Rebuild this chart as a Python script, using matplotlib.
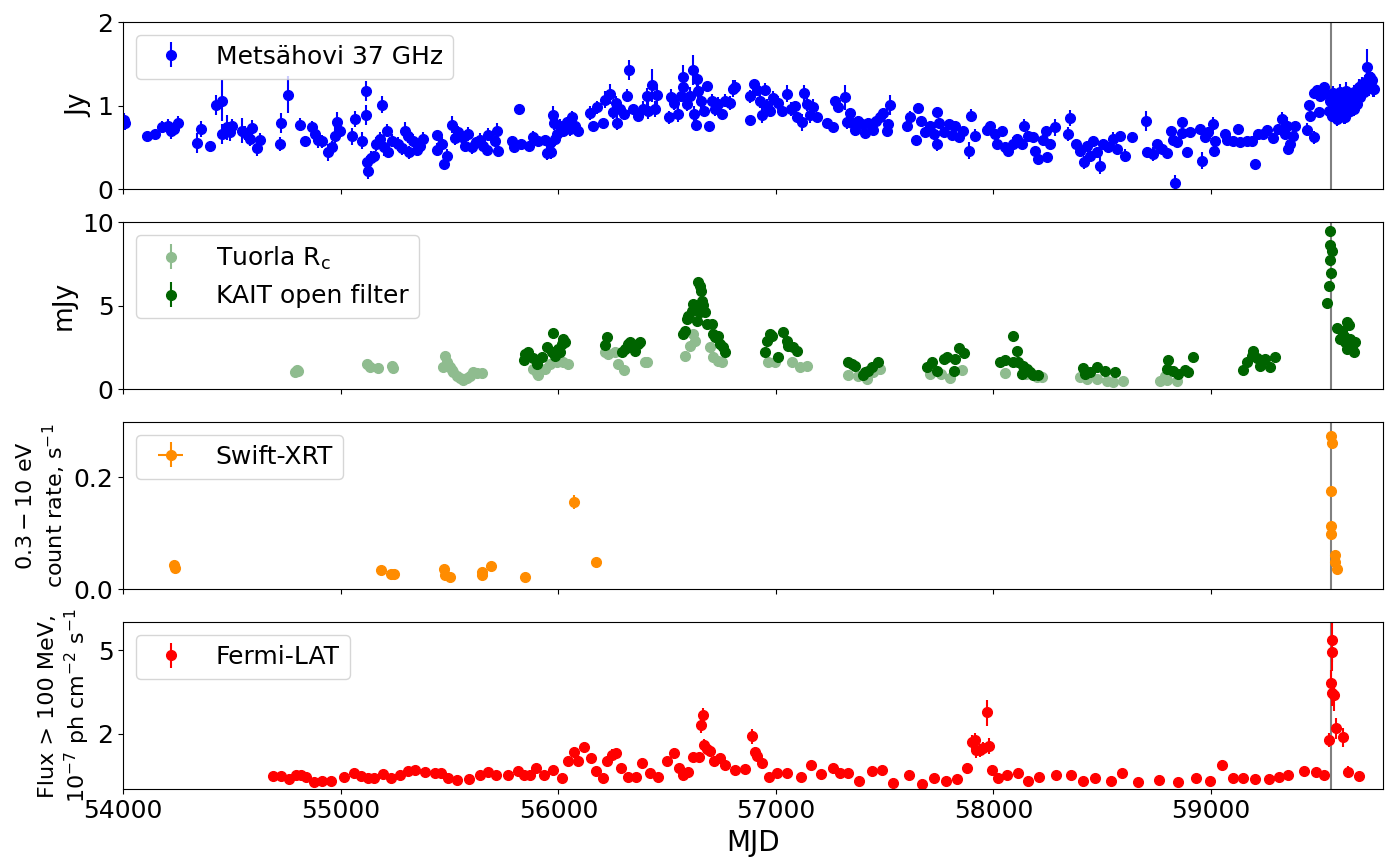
import matplotlib.pyplot as plt
from matplotlib.ticker import NullLocator

# ========= Light-curve data (MJD, flux, error) =========

# Metsahovi 37 GHz, Jy
mets_mjd = [
    54005, 54008, 54107, 54146, 54176, 54207, 54219, 54234, 54250, 54337,
    54357, 54398, 54425, 54455, 54455, 54475, 54490, 54498, 54544, 54559,
    54582, 54590, 54613, 54628, 54720, 54723, 54756, 54812, 54835, 54866,
    54881, 54897, 54912, 54943, 54958, 54973, 54981, 54996, 55053, 55065,
    55096, 55114, 55114, 55119, 55124, 55139, 55154, 55160, 55180, 55188,
    55200, 55211, 55219, 55237, 55265, 55283, 55295, 55308, 55314, 55334,
    55349, 55364, 55380, 55441, 55441, 55467, 55476, 55487, 55510, 55525,
    55541, 55556, 55571, 55587, 55602, 55620, 55640, 55656, 55671, 55679,
    55709, 55717, 55725, 55786, 55794, 55817, 55829, 55866, 55885, 55908,
    55939, 55947, 55962, 55966, 55977, 55982, 55985, 55993, 56008, 56023,
    56039, 56054, 56062, 56077, 56092, 56146, 56158, 56177, 56204, 56215,
    56238, 56253, 56266, 56268, 56284, 56302, 56318, 56325, 56345, 56368,
    56391, 56407, 56414, 56430, 56445, 56456, 56511, 56517, 56532, 56552,
    56563, 56572, 56575, 56590, 56606, 56621, 56624, 56633, 56636, 56644,
    56655, 56670, 56682, 56695, 56705, 56721, 56736, 56751, 56767, 56790,
    56802, 56813, 56879, 56882, 56900, 56912, 56928, 56935, 56951, 56958,
    56974, 56989, 57012, 57027, 57053, 57069, 57089, 57099, 57119, 57130,
    57142, 57158, 57173, 57188, 57237, 57262, 57273, 57288, 57319, 57326,
    57339, 57349, 57365, 57380, 57395, 57411, 57426, 57446, 57461, 57480,
    57495, 57510, 57518, 57523, 57605, 57618, 57645, 57653, 57667, 57687,
    57707, 57725, 57740, 57743, 57748, 57771, 57794, 57809, 57825, 57840,
    57860, 57886, 57897, 57917, 57970, 57985, 58008, 58019, 58039, 58054,
    58069, 58092, 58111, 58131, 58141, 58161, 58184, 58192, 58207, 58230,
    58243, 58246, 58261, 58284, 58341, 58353, 58380, 58399, 58417, 58430,
    58445, 58460, 58476, 58491, 58506, 58529, 58552, 58568, 58583, 58606,
    58636, 58702, 58706, 58736, 58752, 58774, 58797, 58816, 58825, 58837,
    58843, 58866, 58868, 58889, 58905, 58948, 58958, 58974, 58989, 59012,
    59014, 59020, 59066, 59076, 59104, 59124, 59135, 59165, 59188, 59205,
    59219, 59242, 59260, 59288, 59311, 59326, 59342, 59349, 59357, 59365,
    59380, 59388, 59441, 59453, 59457, 59472, 59475, 59487, 59495, 59503,
    59518, 59533, 59541, 59549, 59556, 59560, 59564, 59568, 59572, 59576,
    59579, 59583, 59587, 59591, 59595, 59599, 59602, 59606, 59610, 59614,
    59618, 59622, 59625, 59629, 59633, 59637, 59641, 59645, 59648, 59652,
    59656, 59660, 59664, 59668, 59671, 59675, 59679, 59683, 59687, 59690,
    59694, 59698, 59702, 59706, 59710, 59714, 59717, 59721, 59725, 59729,
    59733, 59737, 59740, 59744, 59748,
]
mets_flux = [
    0.83, 0.79, 0.63, 0.66, 0.74, 0.76, 0.70, 0.72, 0.79, 0.55,
    0.72, 0.51, 1.01, 1.06, 0.66, 0.74, 0.68, 0.76, 0.70, 0.67,
    0.60, 0.73, 0.49, 0.59, 0.54, 0.79, 1.13, 0.77, 0.58, 0.74,
    0.66, 0.59, 0.57, 0.44, 0.50, 0.64, 0.80, 0.70, 0.63, 0.84,
    0.58, 1.17, 0.89, 0.32, 0.22, 0.37, 0.40, 0.54, 0.60, 1.01,
    0.50, 0.70, 0.44, 0.58, 0.54, 0.49, 0.70, 0.63, 0.44, 0.58,
    0.47, 0.52, 0.60, 0.65, 0.47, 0.54, 0.30, 0.40, 0.77, 0.61,
    0.68, 0.62, 0.52, 0.66, 0.50, 0.56, 0.59, 0.51, 0.47, 0.65,
    0.57, 0.69, 0.46, 0.58, 0.50, 0.96, 0.54, 0.52, 0.62, 0.58,
    0.59, 0.43, 0.55, 0.44, 0.89, 0.79, 0.60, 0.66, 0.76, 0.70,
    0.80, 0.72, 0.86, 0.76, 0.69, 0.91, 0.76, 0.98, 0.79, 1.07,
    1.14, 0.92, 1.03, 0.79, 0.96, 0.90, 1.12, 1.43, 0.96, 0.88,
    0.96, 1.11, 0.94, 1.24, 0.96, 1.13, 0.86, 1.10, 1.03, 0.90,
    1.12, 1.34, 1.22, 1.02, 1.12, 1.43, 0.90, 0.77, 1.32, 1.18,
    1.05, 0.94, 1.23, 0.76, 1.06, 0.96, 1.02, 0.90, 1.06, 1.03,
    1.20, 1.22, 0.83, 1.11, 1.26, 1.19, 1.05, 0.89, 1.19, 1.00,
    0.94, 1.09, 1.03, 0.94, 1.14, 0.96, 1.00, 0.86, 0.80, 1.15,
    1.02, 0.89, 0.98, 0.86, 0.79, 0.74, 1.05, 0.98, 1.10, 0.80,
    0.91, 0.79, 0.71, 0.82, 0.78, 0.67, 0.79, 0.71, 0.81, 0.86,
    0.91, 0.69, 0.78, 1.01, 0.76, 0.86, 0.59, 0.97, 0.81, 0.68,
    0.75, 0.66, 0.54, 0.92, 0.79, 0.68, 0.78, 0.65, 0.76, 0.62,
    0.70, 0.46, 0.88, 0.64, 0.71, 0.76, 0.66, 0.54, 0.70, 0.50,
    0.46, 0.54, 0.60, 0.54, 0.76, 0.64, 0.62, 0.46, 0.36, 0.59,
    0.70, 0.38, 0.54, 0.74, 0.66, 0.85, 0.54, 0.46, 0.32, 0.52,
    0.40, 0.57, 0.44, 0.28, 0.54, 0.50, 0.60, 0.48, 0.63, 0.40,
    0.62, 0.81, 0.44, 0.42, 0.54, 0.48, 0.43, 0.70, 0.59, 0.07,
    0.56, 0.80, 0.67, 0.44, 0.68, 0.72, 0.34, 0.62, 0.68, 0.78,
    0.46, 0.58, 0.66, 0.59, 0.57, 0.72, 0.56, 0.58, 0.57, 0.30,
    0.66, 0.66, 0.71, 0.61, 0.72, 0.84, 0.66, 0.76, 0.48, 0.54,
    0.64, 0.75, 0.71, 1.01, 0.88, 0.62, 1.15, 1.19, 0.92, 1.12,
    1.22, 1.14, 0.94, 1.05, 0.88, 1.15, 1.02, 0.92, 1.12, 0.86,
    0.84, 1.08, 0.98, 0.90, 1.16, 1.00, 0.90, 1.12, 1.08, 0.86,
    0.86, 1.18, 1.04, 0.92, 1.14, 1.00, 0.94, 1.10, 1.06, 0.98,
    0.96, 1.16, 1.12, 1.04, 1.02, 1.18, 1.22, 1.14, 1.10, 1.20,
    1.26, 1.18, 1.16, 1.24, 1.28, 1.22, 1.46, 1.30, 1.22, 1.34,
    1.34, 1.28, 1.30, 1.20, 1.20,
]
mets_err = [
    0.08, 0.08, 0.05, 0.05, 0.07, 0.08, 0.10, 0.08, 0.08, 0.12,
    0.10, 0.07, 0.12, 0.25, 0.12, 0.15, 0.10, 0.08, 0.15, 0.08,
    0.08, 0.10, 0.10, 0.08, 0.08, 0.12, 0.22, 0.08, 0.05, 0.08,
    0.10, 0.10, 0.08, 0.10, 0.08, 0.12, 0.12, 0.08, 0.10, 0.10,
    0.10, 0.12, 0.12, 0.08, 0.10, 0.08, 0.06, 0.08, 0.08, 0.10,
    0.10, 0.08, 0.06, 0.08, 0.08, 0.08, 0.10, 0.08, 0.08, 0.08,
    0.08, 0.08, 0.08, 0.05, 0.08, 0.08, 0.06, 0.08, 0.10, 0.08,
    0.08, 0.08, 0.08, 0.08, 0.08, 0.06, 0.08, 0.06, 0.06, 0.08,
    0.06, 0.10, 0.08, 0.06, 0.06, 0.04, 0.06, 0.06, 0.08, 0.06,
    0.06, 0.08, 0.06, 0.08, 0.10, 0.08, 0.08, 0.08, 0.08, 0.08,
    0.06, 0.08, 0.08, 0.06, 0.06, 0.08, 0.06, 0.08, 0.05, 0.10,
    0.12, 0.08, 0.08, 0.08, 0.06, 0.06, 0.08, 0.12, 0.05, 0.06,
    0.10, 0.10, 0.10, 0.20, 0.10, 0.12, 0.08, 0.10, 0.08, 0.10,
    0.08, 0.15, 0.12, 0.08, 0.10, 0.18, 0.10, 0.08, 0.12, 0.10,
    0.08, 0.06, 0.04, 0.06, 0.08, 0.08, 0.08, 0.06, 0.08, 0.08,
    0.10, 0.08, 0.05, 0.08, 0.05, 0.08, 0.08, 0.10, 0.08, 0.08,
    0.08, 0.08, 0.08, 0.06, 0.10, 0.08, 0.06, 0.06, 0.10, 0.10,
    0.08, 0.10, 0.10, 0.06, 0.04, 0.04, 0.06, 0.06, 0.15, 0.08,
    0.06, 0.06, 0.08, 0.06, 0.06, 0.06, 0.06, 0.06, 0.06, 0.06,
    0.06, 0.06, 0.06, 0.12, 0.08, 0.08, 0.06, 0.06, 0.06, 0.06,
    0.06, 0.06, 0.08, 0.06, 0.06, 0.06, 0.06, 0.06, 0.06, 0.06,
    0.06, 0.10, 0.08, 0.08, 0.05, 0.05, 0.06, 0.05, 0.06, 0.06,
    0.05, 0.08, 0.06, 0.05, 0.08, 0.06, 0.05, 0.05, 0.05, 0.06,
    0.05, 0.06, 0.06, 0.10, 0.08, 0.10, 0.06, 0.08, 0.08, 0.06,
    0.06, 0.06, 0.06, 0.10, 0.06, 0.06, 0.08, 0.06, 0.06, 0.08,
    0.06, 0.12, 0.06, 0.08, 0.06, 0.06, 0.06, 0.06, 0.08, 0.10,
    0.06, 0.06, 0.06, 0.06, 0.06, 0.06, 0.10, 0.06, 0.06, 0.08,
    0.08, 0.06, 0.06, 0.06, 0.06, 0.06, 0.06, 0.06, 0.06, 0.06,
    0.06, 0.06, 0.06, 0.06, 0.06, 0.08, 0.06, 0.10, 0.06, 0.06,
    0.06, 0.06, 0.08, 0.06, 0.08, 0.08, 0.06, 0.06, 0.06, 0.06,
    0.06, 0.06, 0.06, 0.08, 0.08, 0.08, 0.08, 0.08, 0.08, 0.08,
    0.08, 0.08, 0.08, 0.08, 0.10, 0.08, 0.08, 0.08, 0.08, 0.08,
    0.08, 0.10, 0.08, 0.08, 0.08, 0.08, 0.08, 0.08, 0.08, 0.08,
    0.08, 0.08, 0.08, 0.08, 0.08, 0.08, 0.10, 0.08, 0.08, 0.08,
    0.08, 0.08, 0.10, 0.08, 0.08, 0.10, 0.22, 0.08, 0.10, 0.08,
    0.12, 0.10, 0.10, 0.10, 0.10,
]

# Tuorla R_c, mJy
tuorla_mjd = [
    54789, 54797, 54805, 55119, 55134, 55173, 55234, 55242, 55471, 55479,
    55487, 55495, 55502, 55510, 55518, 55533, 55548, 55564, 55579, 55594,
    55610, 55625, 55648, 55885, 55900, 55908, 55939, 55962, 55993, 56023,
    56046, 56215, 56230, 56261, 56276, 56302, 56399, 56407, 56583, 56606,
    56621, 56629, 56698, 56713, 56736, 56751, 56966, 56997, 57073, 57112,
    57142, 57334, 57380, 57418, 57449, 57480, 57710, 57760, 57802, 57855,
    58054, 58150, 58200, 58223, 58399, 58430, 58476, 58522, 58552, 58598,
    58767, 58790, 58800, 58843,
]
tuorla_flux = [
    1.04, 1.12, 1.10, 1.50, 1.30, 1.24, 1.36, 1.24, 1.30, 1.96,
    1.60, 1.45, 1.30, 1.15, 1.00, 0.80, 0.64, 0.56, 0.64, 0.80,
    1.04, 0.96, 0.96, 1.20, 0.98, 0.84, 1.20, 1.50, 1.60, 1.60,
    1.50, 2.24, 2.10, 2.20, 1.50, 1.16, 1.60, 1.60, 1.96, 2.60,
    3.30, 2.90, 2.50, 1.90, 1.70, 1.60, 1.64, 1.60, 1.60, 1.30,
    1.36, 0.84, 0.80, 0.60, 1.00, 1.20, 0.90, 0.90, 0.64, 1.16,
    0.96, 0.90, 0.70, 0.70, 0.70, 0.60, 0.60, 0.50, 0.44, 0.50,
    0.50, 0.80, 0.55, 0.50,
]
tuorla_err = [
    0.05, 0.05, 0.05, 0.06, 0.05, 0.05, 0.05, 0.05, 0.05, 0.08,
    0.06, 0.05, 0.05, 0.05, 0.04, 0.04, 0.03, 0.03, 0.03, 0.04,
    0.04, 0.04, 0.04, 0.05, 0.04, 0.04, 0.05, 0.06, 0.06, 0.06,
    0.06, 0.08, 0.08, 0.08, 0.06, 0.05, 0.06, 0.06, 0.08, 0.10,
    0.12, 0.10, 0.10, 0.08, 0.06, 0.06, 0.06, 0.06, 0.06, 0.05,
    0.05, 0.04, 0.04, 0.03, 0.04, 0.05, 0.04, 0.04, 0.03, 0.05,
    0.04, 0.04, 0.03, 0.03, 0.03, 0.03, 0.03, 0.03, 0.03, 0.03,
    0.03, 0.04, 0.03, 0.03,
]

# KAIT open filter, mJy
kait_mjd = [
    55844, 55847, 55862, 55885, 55900, 55923, 55947, 55970, 55977, 55985,
    56000, 56008, 56016, 56023, 56031, 56215, 56223, 56292, 56307, 56322,
    56330, 56338, 56353, 56368, 56376, 56575, 56583, 56591, 56598, 56613,
    56621, 56636, 56636, 56644, 56652, 56652, 56655, 56660, 56667, 56675,
    56682, 56706, 56713, 56721, 56736, 56744, 56759, 56767, 56951, 56958,
    56974, 56981, 57012, 57035, 57050, 57058, 57081, 57096, 57334, 57349,
    57365, 57403, 57411, 57426, 57441, 57472, 57694, 57717, 57740, 57771,
    57786, 57817, 57825, 57840, 57863, 58031, 58054, 58092, 58092, 58108,
    58115, 58131, 58138, 58154, 58169, 58184, 58207, 58414, 58422, 58445,
    58476, 58514, 58560, 58797, 58805, 58828, 58851, 58882, 58897, 58917,
    59150, 59165, 59188, 59196, 59211, 59227, 59250, 59273, 59296, 59533,
    59544, 59546, 59549, 59549, 59552, 59556, 59580, 59595, 59602, 59610,
    59618, 59625, 59625, 59633, 59641, 59648, 59656, 59664,
]
kait_flux = [
    1.76, 2.10, 2.20, 1.84, 1.50, 1.90, 2.50, 2.24, 3.36, 2.00,
    2.40, 2.20, 2.70, 3.00, 2.84, 2.64, 3.10, 2.20, 2.40, 2.70,
    2.80, 2.50, 2.30, 2.70, 2.80, 3.30, 3.50, 4.20, 4.40, 4.70,
    5.10, 5.00, 4.10, 6.40, 6.20, 4.60, 5.90, 5.30, 5.04, 4.60,
    3.90, 3.90, 3.30, 3.10, 3.20, 2.70, 2.50, 2.20, 2.24, 2.90,
    3.30, 3.20, 1.90, 3.40, 2.90, 2.60, 2.50, 2.30, 1.60, 1.50,
    1.40, 0.84, 1.00, 1.10, 1.30, 1.64, 1.30, 1.60, 1.10, 1.80,
    1.90, 1.10, 1.80, 2.44, 2.16, 1.60, 1.76, 3.16, 1.60, 2.30,
    1.60, 0.90, 1.40, 1.20, 1.00, 0.84, 0.84, 1.24, 0.90, 1.00,
    1.30, 1.10, 1.04, 1.20, 1.76, 1.10, 0.90, 1.16, 1.04, 1.90,
    1.16, 1.60, 2.00, 2.30, 1.84, 1.40, 1.80, 1.30, 1.90, 5.16,
    6.16, 8.60, 7.76, 9.44, 6.96, 8.26, 3.64, 3.00, 3.50, 3.20,
    2.80, 4.04, 2.40, 3.84, 3.00, 2.50, 2.20, 2.80,
]
kait_err = [
    0.05, 0.05, 0.05, 0.05, 0.05, 0.05, 0.06, 0.05, 0.08, 0.05,
    0.06, 0.05, 0.06, 0.06, 0.06, 0.06, 0.08, 0.05, 0.06, 0.06,
    0.06, 0.06, 0.05, 0.06, 0.06, 0.08, 0.08, 0.10, 0.10, 0.10,
    0.12, 0.12, 0.10, 0.15, 0.15, 0.10, 0.12, 0.12, 0.12, 0.10,
    0.08, 0.08, 0.08, 0.06, 0.08, 0.06, 0.06, 0.05, 0.05, 0.06,
    0.08, 0.08, 0.05, 0.08, 0.06, 0.06, 0.06, 0.05, 0.04, 0.04,
    0.04, 0.03, 0.03, 0.03, 0.04, 0.04, 0.04, 0.04, 0.03, 0.05,
    0.05, 0.03, 0.05, 0.06, 0.05, 0.04, 0.05, 0.08, 0.04, 0.06,
    0.04, 0.03, 0.04, 0.03, 0.03, 0.03, 0.03, 0.03, 0.03, 0.03,
    0.04, 0.03, 0.03, 0.03, 0.05, 0.03, 0.03, 0.03, 0.03, 0.05,
    0.03, 0.04, 0.05, 0.06, 0.05, 0.04, 0.05, 0.04, 0.05, 0.12,
    0.15, 0.20, 0.18, 0.22, 0.16, 0.20, 0.08, 0.06, 0.08, 0.08,
    0.06, 0.10, 0.06, 0.08, 0.06, 0.06, 0.05, 0.06,
]

# Swift-XRT 0.3-10 keV count rate, s^-1
xrt_mjd = [
    54232, 54240, 55183, 55232, 55245, 55475, 55477, 55500, 55647, 55651,
    55692, 55849, 56072, 56175, 59553, 59555, 59554, 59554, 59553, 59571,
    59570, 59582,
]
xrt_rate = [
    0.043, 0.037, 0.035, 0.028, 0.028, 0.036, 0.025, 0.021, 0.025, 0.031,
    0.042, 0.022, 0.156, 0.049, 0.274, 0.260, 0.175, 0.113, 0.099, 0.061,
    0.048, 0.036,
]
xrt_err = [
    0.003, 0.003, 0.003, 0.002, 0.002, 0.003, 0.002, 0.002, 0.002, 0.003,
    0.003, 0.002, 0.012, 0.004, 0.005, 0.005, 0.006, 0.004, 0.004, 0.003,
    0.003, 0.003,
]
xrt_dt = [
    0.5, 0.5, 0.5, 0.5, 0.5, 0.5, 0.5, 0.5, 0.5, 0.5,
    0.5, 0.5, 0.5, 0.5, 0.5, 0.5, 0.5, 0.5, 0.5, 0.5,
    0.5, 0.5,
]

# Fermi-LAT flux > 100 MeV, 1e-7 ph cm^-2 s^-1
lat_mjd = [
    54689, 54723, 54760, 54792, 54817, 54840, 54877, 54915, 54957, 55013,
    55062, 55094, 55123, 55151, 55192, 55232, 55274, 55308, 55340, 55387,
    55434, 55462, 55491, 55534, 55591, 55642, 55675, 55713, 55768, 55815,
    55843, 55868, 55896, 55934, 55975, 56019, 56043, 56070, 56089, 56119,
    56151, 56175, 56204, 56226, 56245, 56264, 56287, 56321, 56358, 56387,
    56421, 56458, 56500, 56534, 56553, 56572, 56598, 56617, 56647, 56655,
    56664, 56670, 56683, 56698, 56717, 56742, 56768, 56811, 56858, 56892,
    56906, 56914, 56937, 56968, 57006, 57053, 57115, 57162, 57210, 57261,
    57296, 57330, 57382, 57443, 57487, 57539, 57613, 57674, 57725, 57782,
    57834, 57878, 57903, 57916, 57922, 57941, 57954, 57973, 57979, 57992,
    58021, 58065, 58113, 58158, 58212, 58288, 58359, 58412, 58469, 58542,
    58593, 58664, 58760, 58847, 58931, 58994, 59052, 59103, 59147, 59204,
    59267, 59315, 59357, 59427, 59485, 59519, 59544, 59553, 59555, 59556,
    59558, 59566, 59576, 59609, 59630, 59681,
]
lat_flux = [
    1.26, 1.26, 1.22, 1.27, 1.27, 1.25, 1.18, 1.20, 1.20, 1.25,
    1.30, 1.26, 1.24, 1.23, 1.29, 1.23, 1.28, 1.33, 1.35, 1.32,
    1.31, 1.30, 1.23, 1.21, 1.22, 1.28, 1.32, 1.27, 1.27, 1.33,
    1.27, 1.28, 1.37, 1.27, 1.35, 1.23, 1.49, 1.64, 1.48, 1.74,
    1.53, 1.33, 1.23, 1.49, 1.59, 1.62, 1.37, 1.25, 1.25, 1.46,
    1.30, 1.25, 1.48, 1.62, 1.37, 1.28, 1.32, 1.55, 1.55, 2.21,
    2.45, 1.78, 1.70, 1.65, 1.48, 1.53, 1.43, 1.34, 1.36, 1.95,
    1.64, 1.57, 1.46, 1.25, 1.30, 1.30, 1.25, 1.42, 1.29, 1.37,
    1.30, 1.30, 1.20, 1.33, 1.35, 1.17, 1.28, 1.16, 1.23, 1.20,
    1.22, 1.37, 1.83, 1.88, 1.68, 1.68, 1.71, 2.54, 1.76, 1.35,
    1.23, 1.28, 1.31, 1.20, 1.25, 1.27, 1.28, 1.19, 1.23, 1.20,
    1.30, 1.18, 1.21, 1.18, 1.23, 1.20, 1.43, 1.24, 1.24, 1.22,
    1.22, 1.25, 1.28, 1.33, 1.32, 1.27, 1.88, 3.51, 3.12, 4.90,
    5.60, 3.07, 2.14, 1.93, 1.32, 1.26,
]
lat_err = [
    0.06, 0.06, 0.06, 0.06, 0.06, 0.06, 0.06, 0.06, 0.06, 0.06,
    0.06, 0.06, 0.06, 0.06, 0.06, 0.06, 0.06, 0.06, 0.06, 0.06,
    0.06, 0.06, 0.06, 0.06, 0.06, 0.06, 0.06, 0.06, 0.06, 0.06,
    0.06, 0.06, 0.06, 0.06, 0.06, 0.06, 0.08, 0.10, 0.08, 0.10,
    0.08, 0.06, 0.06, 0.08, 0.10, 0.08, 0.06, 0.06, 0.06, 0.08,
    0.06, 0.06, 0.08, 0.10, 0.06, 0.06, 0.06, 0.08, 0.08, 0.20,
    0.20, 0.12, 0.10, 0.08, 0.08, 0.08, 0.06, 0.06, 0.06, 0.15,
    0.10, 0.08, 0.06, 0.06, 0.06, 0.06, 0.06, 0.06, 0.06, 0.06,
    0.06, 0.06, 0.06, 0.06, 0.06, 0.06, 0.06, 0.06, 0.06, 0.06,
    0.06, 0.08, 0.15, 0.15, 0.15, 0.12, 0.12, 0.35, 0.15, 0.08,
    0.06, 0.06, 0.06, 0.06, 0.06, 0.06, 0.06, 0.06, 0.06, 0.06,
    0.06, 0.06, 0.06, 0.06, 0.06, 0.06, 0.08, 0.06, 0.06, 0.06,
    0.06, 0.06, 0.06, 0.06, 0.06, 0.06, 0.15, 0.50, 0.40, 0.90,
    1.20, 0.50, 0.25, 0.20, 0.08, 0.06,
]

flare_mjd = 59553

# ========= Plot =========
plt.rcParams['font.size'] = 18
plt.rcParams['lines.markersize'] = 7

fig, axes = plt.subplots(4, 1, sharex=True, figsize=(13.9, 8.57), dpi=100)
fig.subplots_adjust(left=0.0887, right=0.9952, top=0.9743, bottom=0.079, hspace=0.198)
ax1, ax2, ax3, ax4 = axes

ax1.errorbar(mets_mjd, mets_flux, yerr=mets_err, fmt='o', color='blue',
             label='Metsähovi 37 GHz')
ax1.set_ylim(0, 2)
ax1.set_ylabel('Jy', fontsize=19)

ax2.errorbar(tuorla_mjd, tuorla_flux, yerr=tuorla_err, fmt='o', color='darkseagreen',
             label=r'Tuorla R$_\mathrm{c}$')
ax2.errorbar(kait_mjd, kait_flux, yerr=kait_err, fmt='o', color='darkgreen',
             label='KAIT open filter')
ax2.set_ylim(0, 10)
ax2.set_ylabel('mJy', fontsize=19)

ax3.errorbar(xrt_mjd, xrt_rate, yerr=xrt_err, xerr=xrt_dt, fmt='o', color='darkorange',
             label='Swift-XRT')
ax3.set_ylim(0, 0.298)
ax3.set_yticks([0.0, 0.2])
ax3.set_ylabel('$0.3 - 10$ eV\ncount rate, s$^{-1}$', fontsize=16)

ax4.errorbar(lat_mjd, lat_flux, yerr=lat_err, fmt='o', color='red', label='Fermi-LAT')
ax4.set_yscale('log')
ax4.set_ylim(1.09, 6.8)
ax4.set_yticks([2, 5])
ax4.set_yticklabels(['2', '5'])
ax4.yaxis.set_minor_locator(NullLocator())
ax4.set_ylabel('Flux > 100 MeV,\n$10^{-7}$ ph cm$^{-2}$ s$^{-1}$', fontsize=16)

for ax in axes:
    ax.axvline(flare_mjd, color='grey', lw=1.5, zorder=1)
    ax.legend(loc='upper left', fontsize=18)
    ax.tick_params(labelsize=18)

ax4.set_xlim(54000, 59793)
ax4.set_xlabel('MJD', fontsize=20)

fig.savefig('out.png', dpi=100)
